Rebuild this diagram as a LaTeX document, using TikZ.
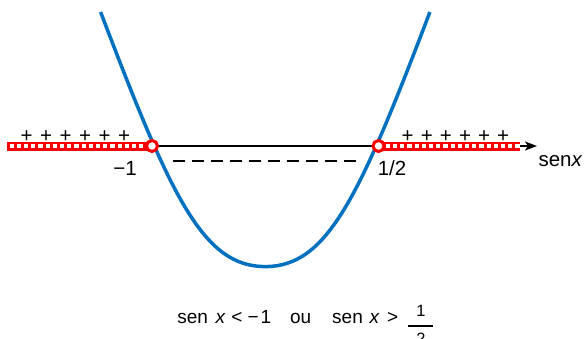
\documentclass[tikz,border=0pt]{standalone}
\usepackage{fontspec}
\setmainfont{Liberation Sans}
\usepackage{xcolor}
\usetikzlibrary{arrows.meta}
\definecolor{curveblue}{RGB}{0,112,192}
\definecolor{bandred}{RGB}{250,0,0}

\begin{document}
\begin{tikzpicture}[x=0.5pt,y=-0.5pt,
  openpt/.style={circle,draw=bandred,fill=white,line width=1.5pt,minimum size=5.5pt,inner sep=0pt},
  signlbl/.style={anchor=base,inner sep=0pt,font=\fontsize{10.25}{12}\selectfont},
  condlbl/.style={inner sep=0pt,font=\fontsize{9.5}{11}\selectfont},
  fraclbl/.style={anchor=base,inner sep=0pt,font=\fontsize{8.2}{10}\selectfont},
  redband/.style={line width=4.5pt,bandred},
  bandholes/.style={line width=2.2pt,white,dash pattern=on 2.1pt off 1.5pt}]
\useasboundingbox (0,0) rectangle (587,338);
\clip (0,0) rectangle (587,338);

\coordinate (axstart) at (7,146);
\coordinate (axend) at (537,146);
\coordinate (holesL) at (9.5,146);
\coordinate (bandR) at (520,146);
\coordinate (m1) at (152,146);
\coordinate (half) at (378.5,146);

% eixo
\draw[line width=1pt,-{Stealth[length=6pt,width=4.5pt,inset=1.5pt]}] (axstart) -- (axend);

% faixas
\draw[redband] (axstart) -- (m1);
\draw[bandholes] (holesL) -- (m1);
\draw[redband] (half) -- (bandR);
\draw[bandholes] (half) -- (bandR);

% parabola
\draw[curveblue,line width=1.75pt] (100.6,12) .. controls (171,197) and (203,266.6) .. (265.25,266.6)
  .. controls (327.5,266.6) and (359.5,197) .. (429.9,12);

\node[openpt] (m1pt) at (m1) {};
\node[openpt] (halfpt) at (half) {};

% sinais
\foreach \i in {0,...,5}
  \node[signlbl] (plusL\i) at ({26.7+19.46*\i},142.5) {+};
\foreach \i in {0,...,5}
  \node[signlbl] (plusR\i) at ({407.7+19.1*\i},142.5) {+};
\coordinate (dashL) at (172.7,160.7);
\coordinate (dashR) at (356,160.7);
\draw[line width=1pt,dash pattern=on 6.15pt off 3.35pt] (dashL) -- (dashR);

\node[signlbl] (lblm1) at (125,175) {−1};
\node[signlbl] (lblhalf) at (392,175) {1/2};
\node[signlbl] (lblaxis) at (560.5,166.5) {sen\textit{x}};

% condicao
\node[condlbl,anchor=base west] (cond) at (177,323.5)
  {sen\hspace{0.4em}\textit{x}\hspace{0.3em}<\hspace{0.27em}−\hspace{0.1em}1\hspace{1em}ou\hspace{1.1em}sen\hspace{0.35em}\textit{x}\hspace{0.4em}>};
\node[fraclbl] (numer) at (421,316.7) {1};
\node[fraclbl] (denom) at (421,344.7) {2};
\coordinate (barL) at (408,326);
\coordinate (barR) at (433,326);
\draw[line width=0.75pt] (barL) -- (barR);
\end{tikzpicture}
\end{document}
